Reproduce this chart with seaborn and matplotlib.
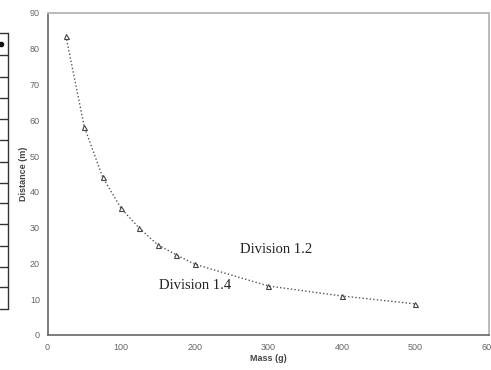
import matplotlib
matplotlib.use("Agg")
import matplotlib.pyplot as plt
from matplotlib.lines import Line2D
import seaborn as sns
import pandas as pd

mass_g = [25, 50, 75, 100, 125, 150, 175, 200, 300, 400, 500]
distance_m = [83.6, 58.2, 44.1, 35.4, 29.8, 25.2, 22.4, 19.8, 13.7, 10.9, 8.7]
x_ticks = [0, 100, 200, 300, 400, 500, 600]
y_ticks = [0, 10, 20, 30, 40, 50, 60, 70, 80, 90]
labels = ["Division 1.2", "Division 1.4"]
label_x = [262, 151]
label_y = [24, 13.7]

sns.set_style("white")
plt.rcParams['font.family'] = ['Liberation Sans', 'DejaVu Sans']

df = pd.DataFrame({"Mass (g)": mass_g, "Distance (m)": distance_m})

fig = plt.figure(figsize=(4.91, 3.70), dpi=100)
ax = fig.add_axes([47.5/491, 35/370, (489-47.5)/491, (335-13)/370])

sns.lineplot(data=df, x="Mass (g)", y="Distance (m)", ax=ax,
             color="#555555", linestyle=(0, (1, 1.6)), linewidth=1.0,
             marker="^", markersize=3.6, markerfacecolor="white",
             markeredgecolor="#444444", markeredgewidth=0.8)

ax.set_xlim(0, 600)
ax.set_ylim(0, 90)
ax.set_xticks(x_ticks)
ax.set_yticks(y_ticks)
ax.tick_params(axis="both", direction="inout", length=5, width=0.9,
               color="#555555", labelsize=6.5, labelcolor="#666666", pad=3)

for s in ["left", "bottom"]:
    ax.spines[s].set_color("#666666")
    ax.spines[s].set_linewidth(1.2)
for s in ["top", "right"]:
    ax.spines[s].set_color("#bbbbbb")
    ax.spines[s].set_linewidth(1.4)

ax.set_xlabel("Mass (g)", fontsize=6.5, fontweight="bold", color="#444444", labelpad=2)
ax.set_ylabel("Distance (m)", fontsize=6.5, fontweight="bold", color="#444444", labelpad=1)

for t, xx, yy in zip(labels, label_x, label_y):
    ax.text(xx, yy, t, fontsize=10.5, family="Liberation Serif", color="#222222",
            ha="left", va="center")

# partial table fragment at left edge
H = 370.0
def fl(x0, y0, x1, y1, c="#333333", lw=1.0):
    fig.add_artist(Line2D([x0/491, x1/491], [1 - y0/H, 1 - y1/H], color=c, lw=lw,
                          transform=fig.transFigure))

fl(8, 33, 8, 309)
for yy in [33, 55, 77, 98, 119, 140, 162, 183, 203, 224, 246, 267, 287, 309]:
    fl(0, yy, 8, yy)
fig.add_artist(Line2D([1/491], [1 - 44/H], marker="o", markersize=3, color="#111111",
                      transform=fig.transFigure))

fig.savefig("out.png", dpi=100)
